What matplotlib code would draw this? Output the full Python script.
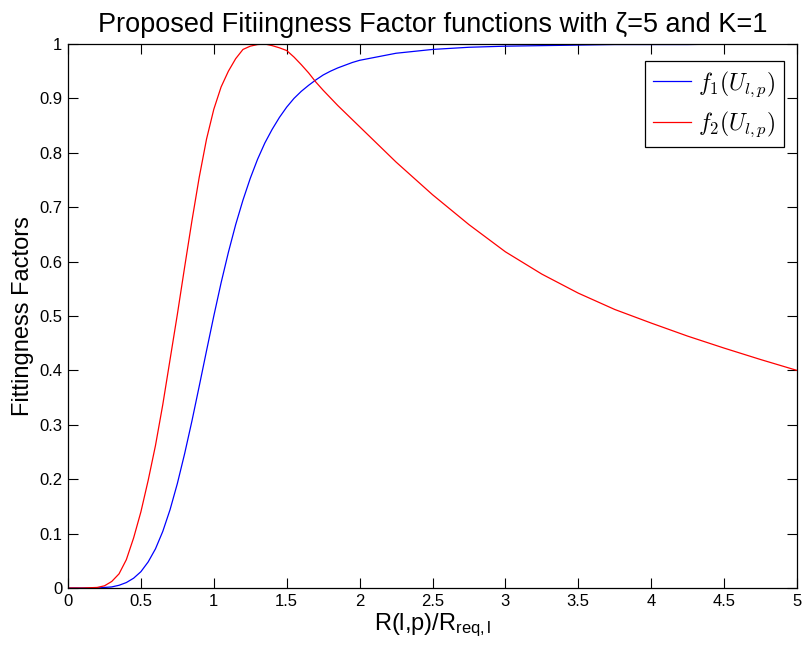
import matplotlib
matplotlib.use('Agg')
import matplotlib.pyplot as plt

# values
ratio = [0, 0.1, 0.2, 0.25, 0.3, 0.35, 0.4, 0.45, 0.5, 0.55, 0.6, 0.65, 0.7, 0.75,
         0.8, 0.85, 0.9, 0.95, 1.0, 1.05, 1.1, 1.15, 1.2, 1.25, 1.3, 1.35, 1.4, 1.45,
         1.5, 1.55, 1.6, 1.65, 1.7, 1.75, 1.8, 1.85, 1.9, 1.95, 2.0, 2.25, 2.5, 2.75,
         3.0, 3.25, 3.5, 3.75, 4.0, 4.25, 4.5, 4.75, 5.0]
f1_vals = [0, 0.000, 0.000, 0.001, 0.002, 0.005, 0.010, 0.018, 0.030, 0.048, 0.072,
           0.104, 0.144, 0.192, 0.247, 0.307, 0.371, 0.436, 0.500, 0.561, 0.617,
           0.668, 0.713, 0.753, 0.788, 0.818, 0.843, 0.865, 0.884, 0.900, 0.913,
           0.924, 0.934, 0.943, 0.950, 0.956, 0.961, 0.966, 0.970, 0.983, 0.990,
           0.994, 0.996, 0.997, 0.998, 0.999, 0.999, 0.999, 1.000, 1.000, 1.000]
f2_vals = [0, 0.000, 0.001, 0.004, 0.012, 0.026, 0.052, 0.092, 0.140, 0.198, 0.262,
           0.337, 0.420, 0.503, 0.590, 0.675, 0.755, 0.825, 0.880, 0.921, 0.950,
           0.973, 0.990, 0.996, 0.999, 1.000, 0.997, 0.993, 0.988, 0.976, 0.962,
           0.947, 0.930, 0.915, 0.901, 0.887, 0.874, 0.861, 0.848, 0.783, 0.723,
           0.668, 0.618, 0.577, 0.542, 0.512, 0.487, 0.463, 0.441, 0.420, 0.400]

x_ticks = [0, 0.5, 1, 1.5, 2, 2.5, 3, 3.5, 4, 4.5, 5]
y_ticks = [0, 0.1, 0.2, 0.3, 0.4, 0.5, 0.6, 0.7, 0.8, 0.9, 1]

plt.rcParams['font.family'] = ['Liberation Sans', 'DejaVu Sans']
plt.rcParams['mathtext.fontset'] = 'cm'

fig = plt.figure(figsize=(8.02, 6.57), dpi=100)
ax = fig.add_axes([68 / 802, 69 / 657, 729 / 802, 544 / 657])

ax.plot(ratio, f1_vals, color='#0000ff', lw=0.9, label=r'$f_1(U_{l,p})$')
ax.plot(ratio, f2_vals, color='#ff0000', lw=0.9, label=r'$f_2(U_{l,p})$')

ax.set_xlim(0, 5)
ax.set_ylim(0, 1)
ax.set_xticks(x_ticks)
ax.set_yticks(y_ticks)
ax.set_xticklabels(['%g' % t for t in x_ticks])
ax.set_yticklabels(['%g' % t for t in y_ticks])
ax.tick_params(direction='in', top=True, right=True, length=7, width=0.8,
               labelsize=12, pad=4)
for s in ax.spines.values():
    s.set_linewidth(0.9)

ax.set_title('Proposed Fitiingness Factor functions with ζ=5 and K=1',
             fontsize=19.5, pad=9)
ax.set_xlabel(r'R(l,p)/R$\mathregular{_{req,l}}$', fontsize=17, labelpad=2)
ax.set_ylabel('Fittingness Factors', fontsize=17, labelpad=4)

leg = ax.legend(loc='upper right', bbox_to_anchor=(0.982, 0.969), borderaxespad=0,
                fontsize=17, fancybox=False, edgecolor='black', framealpha=1,
                handlelength=1.6, handletextpad=0.3, labelspacing=0.45, borderpad=0.35)
leg.get_frame().set_linewidth(0.9)

fig.savefig('out.png', dpi=100)
